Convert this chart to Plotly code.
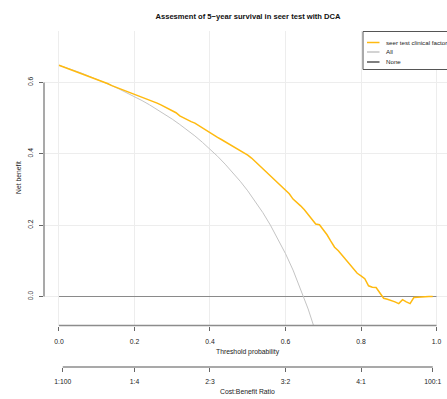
import plotly.graph_objects as go

# Decision curve: threshold probabilities and net benefit per strategy
thresholds = [round(i * 0.01, 2) for i in range(100)]
model_benefit = [
    0.648, 0.644, 0.641, 0.637, 0.633, 0.630, 0.626, 0.622, 0.618, 0.614,
    0.609, 0.605, 0.600, 0.596, 0.591, 0.587, 0.583, 0.580, 0.576, 0.572,
    0.568, 0.563, 0.559, 0.555, 0.551, 0.546, 0.542, 0.537, 0.532, 0.526,
    0.521, 0.515, 0.506, 0.500, 0.496, 0.490, 0.486, 0.479, 0.472, 0.465,
    0.458, 0.452, 0.446, 0.440, 0.434, 0.427, 0.421, 0.415, 0.410, 0.403,
    0.396, 0.388, 0.378, 0.367, 0.358, 0.348, 0.339, 0.330, 0.320, 0.310,
    0.299, 0.288, 0.273, 0.264, 0.254, 0.243, 0.230, 0.215, 0.203, 0.201,
    0.188, 0.173, 0.155, 0.138, 0.128, 0.115, 0.102, 0.089, 0.075, 0.065,
    0.058, 0.050, 0.030, 0.026, 0.025, 0.010, -0.005, -0.008, -0.011, -0.015,
    -0.020, -0.009, -0.015, -0.020, -0.003, -0.002, 0.000, 0.000, 0.000, 0.000,
]

all_thresholds = [round(i * 0.02, 2) for i in range(35)]
all_benefit = [
    0.648, 0.641, 0.633, 0.626, 0.617, 0.609, 0.600, 0.591, 0.581, 0.571,
    0.560, 0.549, 0.537, 0.524, 0.511, 0.497, 0.482, 0.467, 0.450, 0.432,
    0.413, 0.393, 0.371, 0.348, 0.323, 0.296, 0.267, 0.235, 0.200, 0.162,
    0.120, 0.074, 0.022, -0.035, -0.100,
]

none_thresholds = [0.0, 1.0]
none_benefit = [0.0, 0.0]

x_ticks = [0.0, 0.2, 0.4, 0.6, 0.8, 1.0]
x_labels = ["0.0", "0.2", "0.4", "0.6", "0.8", "1.0"]
y_ticks = [0.0, 0.2, 0.4, 0.6]
y_labels = ["0.0", "0.2", "0.4", "0.6"]
ratio_ticks = [0.01, 0.2, 0.4, 0.6, 0.8, 0.99]
ratio_labels = ["1:100", "1:4", "2:3", "3:2", "4:1", "100:1"]

series_names = ["seer test clinical factor", "All", "None"]
series_colors = ["#FFBA10", "#C4C4C4", "#555555"]

W, H = 447, 399
M_L, M_T = 44, 31
PLOT_BOTTOM = 325.5
RATIO_AXIS_Y = 367
plot_h = H - M_T
plot_w = W - M_L


def py(px_y):
    """Pixel row -> paper y coordinate."""
    return (H - px_y) / plot_h


def px(px_x):
    """Pixel column -> paper x coordinate."""
    return (px_x - M_L) / plot_w


FONT = "Liberation Sans, Arial, Helvetica, sans-serif"
XRANGE = [-0.0397, 1.0278]
YRANGE = [-0.0813, 0.744]
TXT = "#222222"
AX_SIZE = 6.8

fig = go.Figure()
fig.add_trace(go.Scatter(x=none_thresholds, y=none_benefit, mode="lines",
                         line=dict(color="#8A8A8A", width=1.2),
                         name=series_names[2], showlegend=False))
fig.add_trace(go.Scatter(x=all_thresholds, y=all_benefit, mode="lines",
                         line=dict(color=series_colors[1], width=1),
                         name=series_names[1], showlegend=False))
fig.add_trace(go.Scatter(x=thresholds, y=model_benefit, mode="lines",
                         line=dict(color=series_colors[0], width=1.5),
                         name=series_names[0], showlegend=False))
# Carrier for the cost:benefit ratio axis
fig.add_trace(go.Scatter(x=ratio_ticks, y=[None] * len(ratio_ticks),
                         xaxis="x2", yaxis="y", mode="lines",
                         showlegend=False, hoverinfo="skip"))

axis_font = dict(family=FONT, size=AX_SIZE, color=TXT)
fig.update_layout(
    width=W, height=H,
    margin=dict(l=M_L, r=0, t=M_T, b=0),
    paper_bgcolor="white", plot_bgcolor="white",
    font=dict(family=FONT, color=TXT),
    title=dict(text="<b>Assesment of 5\u2212year survival in seer test with DCA</b>",
               font=dict(family=FONT, size=7.6, color="#111111"),
               x=px(248), xref="paper", xanchor="center",
               y=1 - 16 / H, yref="container", yanchor="middle"),
    xaxis=dict(range=XRANGE, domain=[0, 1], anchor="y",
               tickvals=x_ticks, ticktext=x_labels, tickfont=axis_font,
               ticks="outside", ticklen=4, tickwidth=1, tickcolor="#666666",
               ticklabelstandoff=5,
               showgrid=True, gridcolor="#EDEDED", gridwidth=1,
               zeroline=False, showline=False),
    xaxis2=dict(range=XRANGE, overlaying="x", anchor="free",
                position=py(RATIO_AXIS_Y), side="bottom",
                tickvals=ratio_ticks, ticktext=ratio_labels, tickfont=axis_font,
                ticks="outside", ticklen=4, tickwidth=1, tickcolor="#666666",
                ticklabelstandoff=4,
                showgrid=False, zeroline=False, showline=False),
    yaxis=dict(range=YRANGE, domain=[py(PLOT_BOTTOM), 1],
               tickvals=y_ticks, ticktext=y_labels, tickfont=axis_font,
               tickangle=-90, ticks="outside", ticklen=4, tickwidth=1,
               tickcolor="#666666", ticklabelstandoff=3,
               showgrid=True, gridcolor="#EDEDED", gridwidth=1,
               zeroline=False, showline=False),
    showlegend=False,
)

# Axis lines spanning only the labelled ticks
axis_line = dict(color="#8C8C8C", width=1.5)
fig.add_shape(type="line", xref="x", yref="paper", x0=0, x1=1,
              y0=py(PLOT_BOTTOM), y1=py(PLOT_BOTTOM), line=axis_line)
fig.add_shape(type="line", xref="x", yref="paper", x0=ratio_ticks[0],
              x1=ratio_ticks[-1], y0=py(RATIO_AXIS_Y), y1=py(RATIO_AXIS_Y),
              line=axis_line)
fig.add_shape(type="line", xref="paper", yref="y", x0=0, x1=0,
              y0=y_ticks[0], y1=y_ticks[-1], line=axis_line)

# Axis titles
fig.add_annotation(text="Threshold probability", xref="x", yref="paper",
                   x=0.5, y=py(352), showarrow=False, yanchor="middle",
                   font=dict(family=FONT, size=AX_SIZE, color=TXT))
fig.add_annotation(text="Cost:Benefit Ratio", xref="x", yref="paper",
                   x=0.5, y=py(391), showarrow=False, yanchor="middle",
                   font=dict(family=FONT, size=AX_SIZE, color=TXT))
fig.add_annotation(text="Net benefit", xref="paper", yref="paper",
                   x=px(18), y=py(178), showarrow=False, textangle=-90,
                   xanchor="center", yanchor="middle",
                   font=dict(family=FONT, size=AX_SIZE, color=TXT))

# Legend box with line keys
fig.add_shape(type="rect", xref="paper", yref="paper",
              x0=px(363), x1=px(470), y0=py(69.5), y1=py(31.5),
              line=dict(color="#555555", width=1), fillcolor="white",
              layer="above")
legend_rows = [42.5, 52, 62]
for name, color, row in zip(series_names, series_colors, legend_rows):
    fig.add_shape(type="line", xref="paper", yref="paper",
                  x0=px(367), x1=px(379.5), y0=py(row), y1=py(row),
                  line=dict(color=color, width=1.5), layer="above")
    fig.add_annotation(text=name, xref="paper", yref="paper",
                       x=px(384), y=py(row), xanchor="left", yanchor="middle",
                       showarrow=False,
                       font=dict(family=FONT, size=6.2, color=TXT))

fig.write_html("out.html")
